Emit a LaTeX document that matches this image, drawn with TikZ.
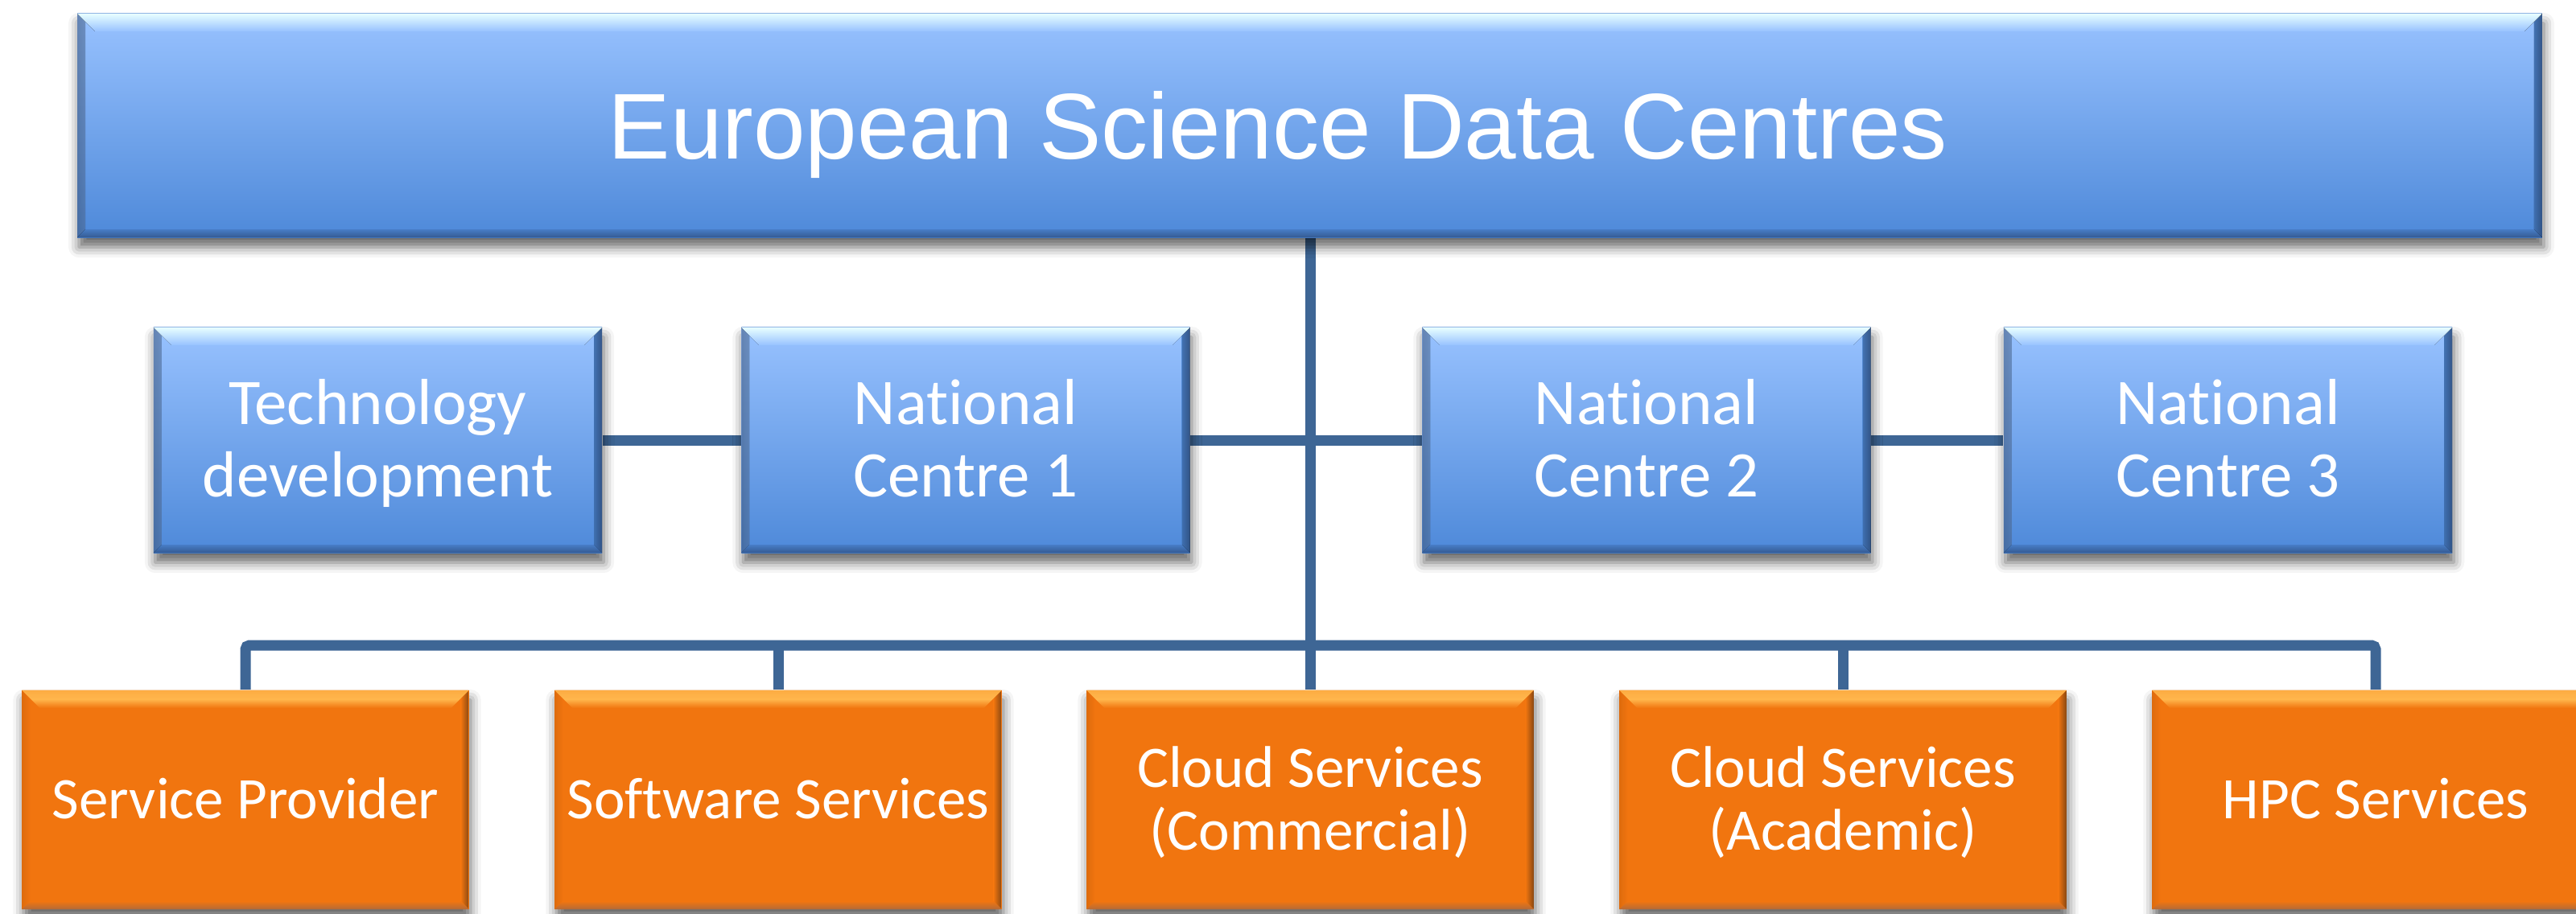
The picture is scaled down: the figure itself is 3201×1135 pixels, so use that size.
\documentclass[tikz,border=0pt]{standalone}
\usepackage{fontspec}
\setmainfont{Carlito}[Ligatures=NoCommon]
\newfontfamily\titlefont{Liberation Sans}
\usetikzlibrary{shadows.blur,calc}
\definecolor{blueTop}{HTML}{98C2FF}
\definecolor{blueBot}{HTML}{4E89D9}
\definecolor{blueHi}{HTML}{E8FFFF}
\definecolor{blueEdge}{HTML}{3A63A0}
\definecolor{orMain}{HTML}{F1750F}
\definecolor{orHi}{HTML}{FFB64C}
\definecolor{orDark}{HTML}{8A4812}
\definecolor{orEdge}{HTML}{B46A38}
\definecolor{lineC}{HTML}{3E6695}
\newcommand\topst{\rule{0pt}{0.99em}}
\newcommand\botst{\rule[-0.35em]{0pt}{0.35em}}
\pgfdeclarelayer{bg}
\pgfsetlayers{bg,main}
\tikzset{
  boxbase/.style={rectangle, inner sep=0pt, text=white, align=center,
    blur shadow={shadow xshift=0.02cm, shadow yshift=-0.12cm, shadow blur radius=0.13cm, shadow opacity=60}},
  bluebox/.style={boxbase, top color=blueTop, bottom color=blueBot,
    path picture={
      \path (path picture bounding box.north west) coordinate (pa)
            (path picture bounding box.north east) coordinate (pb)
            (path picture bounding box.south east) coordinate (pc)
            (path picture bounding box.south west) coordinate (pd);
      \fill[left color=blueEdge!50!blueTop, right color=blueTop!70!blueBot, opacity=0.35]
        (pa) -- ([shift={(0.1cm,-0.1cm)}]pa) -- ([shift={(0.1cm,0.1cm)}]pd) -- (pd) -- cycle;
      \fill[left color=blueBot, right color=blueEdge, opacity=0.75]
        (pb) -- ([shift={(-0.1cm,-0.1cm)}]pb) -- ([shift={(-0.1cm,0.1cm)}]pc) -- (pc) -- cycle;
      \fill[top color=blueBot, bottom color=blueEdge, opacity=0.9]
        (pd) -- (pc) -- ([shift={(-0.1cm,0.1cm)}]pc) -- ([shift={(0.1cm,0.1cm)}]pd) -- cycle;
      \fill[top color=blueHi, bottom color=blueTop]
        (pa) -- (pb) -- ([shift={(-0.22cm,-0.22cm)}]pb) -- ([shift={(0.22cm,-0.22cm)}]pa) -- cycle;
    }},
  orangebox/.style={boxbase, fill=orMain,
    path picture={
      \path (path picture bounding box.north west) coordinate (pa)
            (path picture bounding box.north east) coordinate (pb)
            (path picture bounding box.south east) coordinate (pc)
            (path picture bounding box.south west) coordinate (pd);
      \fill[left color=orMain!85!black, right color=orMain, opacity=0.5]
        (pa) -- ([shift={(0.1cm,-0.1cm)}]pa) -- ([shift={(0.1cm,0.1cm)}]pd) -- (pd) -- cycle;
      \fill[left color=orMain, right color=orDark]
        (pb) -- ([shift={(-0.1cm,-0.1cm)}]pb) -- ([shift={(-0.1cm,0.1cm)}]pc) -- (pc) -- cycle;
      \fill[top color=orMain, bottom color=orEdge]
        (pd) -- (pc) -- ([shift={(-0.1cm,0.1cm)}]pc) -- ([shift={(0.1cm,0.1cm)}]pd) -- cycle;
      \fill[top color=orHi!85!orMain, bottom color=orMain, middle color=orHi]
        (pa) -- (pb) -- ([shift={(-0.22cm,-0.22cm)}]pb) -- ([shift={(0.22cm,-0.22cm)}]pa) -- cycle;
    }},
  centrebox/.style={bluebox, minimum width=5.57cm, minimum height=2.80cm,
    font=\fontsize{23pt}{25.6pt}\selectfont},
  svcbox/.style={orangebox, minimum width=5.55cm, minimum height=2.72cm,
    font=\fontsize{20.8pt}{22.2pt}\selectfont},
  conn/.style={draw=lineC, line width=0.13cm},
}
\begin{document}
\begin{tikzpicture}[x=0.01cm, y=-0.01cm]
\useasboundingbox (0,0) rectangle (3201,1135);
% top
\node[bluebox, minimum width=30.61cm, minimum height=2.78cm,
  font=\titlefont\fontsize{33pt}{36pt}\selectfont] (top) at (1627.5,156)
  {\rule{0pt}{1.066em}European Science Data Centres\hspace*{0.79cm}\botst};
% second row
\node[centrebox] (tech) at (469.5,547) {\topst Technology\\development\botst};
\node[centrebox] (nc1) at (1200,547) {\topst National\\Centre 1\botst};
\node[centrebox] (nc2) at (2046,547) {\topst National\\Centre 2\botst};
\node[centrebox] (nc3) at (2768.5,547) {\topst National\\Centre 3\botst};
% third row
\node[svcbox] (sp) at (305,994) {\topst Service Provider\botst};
\node[svcbox] (sw) at (967,994) {\topst Software Services\botst};
\node[svcbox] (cc) at (1628,994) {\topst Cloud Services\\(Commercial)\botst};
\node[svcbox] (ca) at (2290,994) {\topst Cloud Services\\(Academic)\botst};
\node[svcbox] (hpc) at (2952,994) {\topst HPC Services\botst};
% connectors
\begin{pgfonlayer}{bg}
\draw[conn] (top.south -| cc.north) -- (cc.north);
\draw[conn] (tech.east) -- (nc1.west);
\draw[conn] (nc1.east) -- (nc2.west);
\draw[conn] (nc2.east) -- (nc3.west);
\coordinate (bus) at (1628,802);
\draw[conn, rounded corners=0.05cm] (sp.north) |- (bus) -| (hpc.north);
\draw[conn] (sw.north) -- (sw.north |- bus);
\draw[conn] (ca.north) -- (ca.north |- bus);
\end{pgfonlayer}
\end{tikzpicture}
\end{document}
